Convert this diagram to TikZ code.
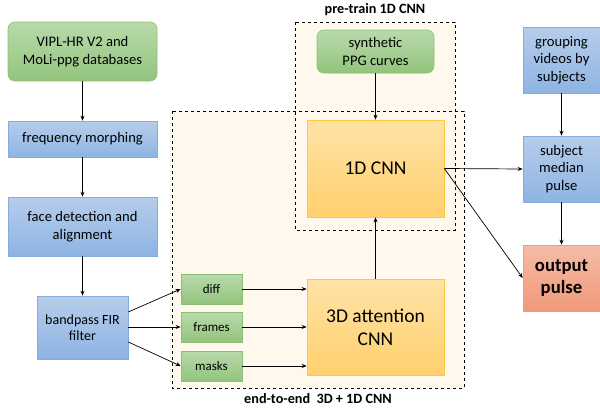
\documentclass[tikz,border=0pt]{standalone}
\usepackage{fontspec}
\setmainfont{Carlito}
\usetikzlibrary{arrows.meta}
\definecolor{grnT}{HTML}{B9DAAC}
\definecolor{grnD}{HTML}{92C47C}
\definecolor{grnB}{HTML}{8CBF76}
\definecolor{bluT}{HTML}{B6CDEA}
\definecolor{bluD}{HTML}{8EB4E3}
\definecolor{bluB}{HTML}{86ACDC}
\definecolor{orT}{HTML}{FFE3A6}
\definecolor{orD}{HTML}{FFD06E}
\definecolor{orB}{HTML}{FFC83D}
\definecolor{redT}{HTML}{F6BCA6}
\definecolor{redD}{HTML}{F0997A}
\definecolor{redB}{HTML}{EF9B7E}
\definecolor{cream}{HTML}{FEF9EC}
\begin{document}
\begin{tikzpicture}[x=1pt,y=-1pt,
  base/.style={inner sep=0pt, align=center, line width=0.6pt},
  gbox/.style={base, draw=grnB, top color=grnT, bottom color=grnD, font=\fontsize{14.6}{17.5}\selectfont},
  sgbox/.style={gbox, font=\fontsize{13}{15}\selectfont},
  bbox/.style={base, draw=bluB, top color=bluT, bottom color=bluD, font=\fontsize{14.6}{17.5}\selectfont},
  obox/.style={base, draw=orB, top color=orT, bottom color=orD, font=\fontsize{19.5}{23}\selectfont},
  rbox/.style={base, draw=redB, top color=redT, bottom color=redD, font=\bfseries\fontsize{18.7}{22}\selectfont},
  region/.style={inner sep=0pt, fill=cream},
  regionline/.style={draw=black, dashed, line width=0.7pt},
  arr/.style={-{Stealth[length=5pt,width=4pt]}, line width=0.7pt},
  lab/.style={font=\bfseries\fontsize{14.2}{16}\selectfont}
]
\useasboundingbox (0,0) rectangle (600,410);
% regions
\path[region] (172,111) rectangle (464,388);
\path[region] (295,22) rectangle (455,230);
\coordinate (e2eNW) at (172,111);
\coordinate (e2eSE) at (464,388);
\coordinate (ptNW) at (295,22);
\coordinate (ptSE) at (455,230);
\draw[regionline] (e2eNW) rectangle (e2eSE);
\draw[regionline] (ptNW) rectangle (ptSE);
\node[lab] (ptlab) at (375,10) {pre-train 1D CNN};
\node[lab] (e2elab) at (318,399) {end-to-end\ \ 3D + 1D CNN};

% left column
\node[gbox, rounded corners=7pt, minimum width=149pt, minimum height=59pt] (vipl) at (82.5,51.5) {VIPL-HR V2 and\\MoLi-ppg databases};
\node[bbox, minimum width=149pt, minimum height=36pt] (freq) at (82.5,139) {frequency morphing};
\node[bbox, minimum width=149pt, minimum height=59pt] (face) at (82.5,226.5) {face detection and\\alignment};
\node[bbox, minimum width=91pt, minimum height=63pt, font=\fontsize{14}{16.5}\selectfont] (band) at (82.5,327.5) {bandpass FIR\\filter};

% inputs
\node[sgbox, minimum width=61pt, minimum height=30pt] (diff) at (211.5,289) {diff};
\node[sgbox, minimum width=61pt, minimum height=30pt] (frames) at (211.5,327) {frames};
\node[sgbox, minimum width=61pt, minimum height=30pt] (masks) at (211.5,366) {masks};

% CNNs
\node[gbox, rounded corners=7pt, minimum width=117pt, minimum height=43pt] (synth) at (375.5,51.5) {synthetic\\PPG curves};
\node[obox, minimum width=137pt, minimum height=97pt] (cnn1) at (375.5,168.5) {1D CNN};
\node[obox, minimum width=137pt, minimum height=96pt] (cnn3) at (375.5,327) {3D attention\\CNN};

% right column
\node[bbox, minimum width=77pt, minimum height=66pt] (group) at (561.5,60) {grouping\\videos by\\subjects};
\node[bbox, minimum width=77pt, minimum height=66pt] (subj) at (561.5,169) {subject\\median\\pulse};
\node[rbox, minimum width=77pt, minimum height=66pt] (out) at (561.5,278) {output\\pulse};

% arrows
\draw[arr] (vipl) -- (freq);
\draw[arr] (freq) -- (face);
\draw[arr] (face) -- (band);
\draw[arr] (band.east |- 0,312) -- (diff.west);
\draw[arr] (band.east |- frames) -- (frames.west);
\draw[arr] (band.east |- 0,342) -- (masks.west);
\draw[arr] (diff.east) -- (cnn3.west |- diff);
\draw[arr] (frames.east) -- (cnn3.west |- frames);
\draw[arr] (masks.east) -- (cnn3.west |- masks);
\draw[arr] (cnn3) -- (cnn1);
\draw[arr] (synth) -- (cnn1);
\draw[arr] (cnn1.east) -- (subj.west);
\draw[arr] (cnn1.east) -- (out.west);
\draw[arr] (group) -- (subj);
\draw[arr] (subj) -- (out);
\end{tikzpicture}
\end{document}
